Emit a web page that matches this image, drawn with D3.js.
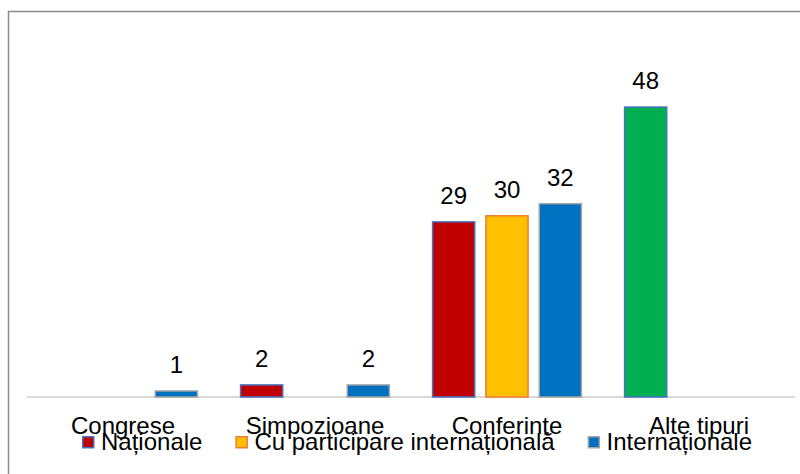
<!DOCTYPE html>
<html>
<head>
<meta charset="utf-8">
<script src="https://cdn.jsdelivr.net/npm/d3@7"></script>
<style>
  html, body { margin: 0; padding: 0; background: #fff; }
  svg { display: block; font-family: Arial, "Liberation Sans", sans-serif; }
</style>
</head>
<body>
<svg id="chart" width="800" height="474"></svg>
<script>
// chart values
const categories = ['Congrese', 'Simpozioane', 'Conferinte', 'Alte tipuri']
const seriesNames = ['Naționale', 'Cu participare internațională', 'Internaționale']
const nationale = [null, 2, 29, 48]
const cuParticipare = [null, null, 30, null]
const internationale = [1, 2, 32, null]

const seriesValues = [nationale, cuParticipare, internationale]

// styles
const fills = ['#c00000', '#ffc000', '#0070c0']
const strokes = ['#4472c4', '#ed7d31', '#a5a5a5']
// single point recoloured (Alte tipuri / Naționale)
const pointFill = { 'Alte tipuri': '#00b050' }

const svg = d3.select('#chart')
const W = 800, H = 474
const baseY = 397

// frame
svg.append('rect')
  .attr('x', 8.5).attr('y', 11.5)
  .attr('width', W).attr('height', H)
  .attr('fill', 'none')
  .attr('stroke', '#8c8c8c')
  .attr('stroke-width', 1.5)

const x0 = d3.scaleBand().domain(categories).range([27, 795]).padding(0)
const x1 = d3.scaleBand().domain(seriesNames)
  .range([0, x0.bandwidth()])
  .paddingInner(0.21).paddingOuter(0.405)
const y = d3.scaleLinear().domain([0, 50]).range([baseY, 95])

// flatten
let bars = []
seriesValues.forEach((vals, si) => {
  vals.forEach((v, ci) => {
    if (v == null) return
    bars.push({ cat: categories[ci], series: seriesNames[si], si: si, value: v })
  })
})

// baseline
svg.append('line')
  .attr('x1', x0.range()[0]).attr('x2', x0.range()[1])
  .attr('y1', baseY).attr('y2', baseY)
  .attr('stroke', '#d9d9d9').attr('stroke-width', 2)

svg.append('g').selectAll('rect')
  .data(bars)
  .enter()
  .append('rect')
  .attr('x', d => x0(d.cat) + x1(d.series))
  .attr('y', d => y(d.value))
  .attr('width', x1.bandwidth())
  .attr('height', d => baseY - y(d.value))
  .attr('fill', d => pointFill[d.cat] && d.si === 0 ? pointFill[d.cat] : fills[d.si])
  .attr('stroke', d => strokes[d.si])
  .attr('stroke-width', 1.5)

svg.append('g').selectAll('text')
  .data(bars)
  .enter()
  .append('text')
  .attr('x', d => x0(d.cat) + x1(d.series) + x1.bandwidth() / 2)
  .attr('y', d => y(d.value) - 18)
  .attr('text-anchor', 'middle')
  .attr('font-size', 24)
  .attr('fill', '#000')
  .text(d => d.value)

// category axis labels
svg.append('g').selectAll('text')
  .data(categories)
  .enter()
  .append('text')
  .attr('x', d => x0(d) + x0.bandwidth() / 2)
  .attr('y', 434)
  .attr('text-anchor', 'middle')
  .attr('font-size', 24)
  .attr('fill', '#000')
  .text(d => d)

// legend
const legend = svg.append('g')
let lx = 82
seriesNames.forEach((name, i) => {
  legend.append('rect')
    .attr('x', lx + 0.75).attr('y', 436.75)
    .attr('width', 11).attr('height', 11)
    .attr('fill', fills[i])
    .attr('stroke', strokes[i])
    .attr('stroke-width', 1.5)
  let t = legend.append('text')
    .attr('x', lx + 19)
    .attr('y', 450)
    .attr('font-size', 24)
    .attr('fill', '#000')
    .text(name)
  lx = lx + 19 + t.node().getComputedTextLength() + 33
})
</script>
</body>
</html>
